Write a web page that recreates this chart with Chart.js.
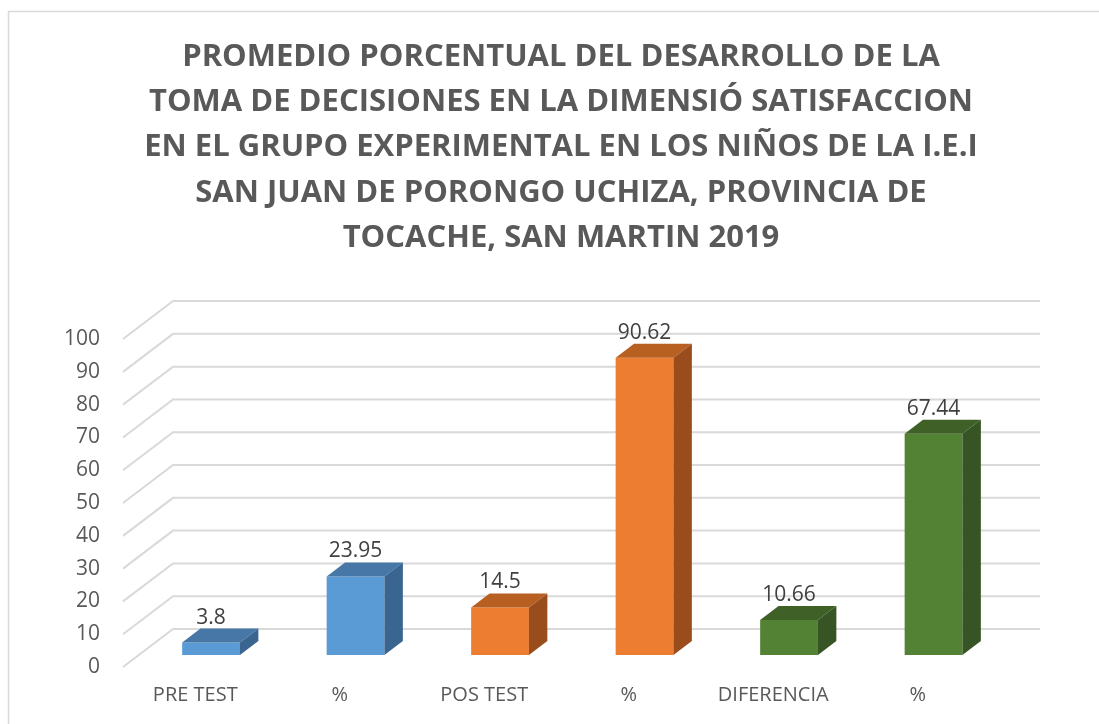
<!DOCTYPE html>
<html>
<head>
<meta charset="utf-8">
<script src="https://cdn.jsdelivr.net/npm/chart.js@4"></script>
<style>
  html, body { margin: 0; padding: 0; background: #fff; }
  #wrap { width: 1099px; height: 724px; }
</style>
</head>
<body>
<div id="wrap"><canvas id="myChart" width="1099" height="724"></canvas></div>
<script>
// chart data
const categories = ['PRE TEST', '%', 'POS TEST', '%', 'DIFERENCIA', '%'];
const values = [3.8, 23.95, 14.5, 90.62, 10.66, 67.44];
const titleLines = [
  'PROMEDIO PORCENTUAL DEL DESARROLLO DE LA',
  'TOMA DE DECISIONES EN LA DIMENSIÓ SATISFACCION',
  'EN EL GRUPO EXPERIMENTAL EN LOS NIÑOS DE LA I.E.I',
  'SAN JUAN DE PORONGO UCHIZA, PROVINCIA DE',
  'TOCACHE, SAN MARTIN 2019'
];
const yMin = 0, yMax = 100, yStep = 10;

// colours (front / top / side)
const frontColors = ['#5B9BD5', '#5B9BD5', '#ED7D31', '#ED7D31', '#548235', '#548235'];
const topColors = ['#4677A6', '#4677A6', '#B85F22', '#B85F22', '#3F6128', '#3F6128'];
const sideColors = ['#3A6590', '#3A6590', '#9A4D1C', '#9A4D1C', '#365424', '#365424'];

// 3d depth vector of the floor and where the bars sit in it
const DEPTH_X = 50, DEPTH_Y = -38;
const D_FRONT = 0.316, D_BACK = 0.684;

function p(x, y, d) {
  return [x + d * DEPTH_X, y + d * DEPTH_Y];
}

const fake3d = {
  id: 'fake3d',
  beforeDraw(chart) {
    const c = chart.ctx;
    c.save();
    c.fillStyle = '#fff';
    c.fillRect(0, 0, chart.width, chart.height);
    c.strokeStyle = '#d9d9d9';
    c.lineWidth = 1.5;
    c.beginPath();
    c.moveTo(8.5, chart.height + 5);
    c.lineTo(8.5, 11.5);
    c.lineTo(chart.width + 5, 11.5);
    c.stroke();
    c.restore();
  },
  beforeDatasetsDraw(chart) {
    const c = chart.ctx;
    const y = chart.scales.y;
    const a = chart.chartArea;
    c.save();
    c.strokeStyle = '#d9d9d9';
    c.lineWidth = 2;
    y.ticks.forEach(t => {
      const py = y.getPixelForValue(t.value);
      c.beginPath();
      c.moveTo(a.left, py);
      c.lineTo(a.left + DEPTH_X, py + DEPTH_Y);
      c.lineTo(a.right + DEPTH_X, py + DEPTH_Y);
      c.stroke();
    });
    c.restore();
    // front faces are drawn by chart.js, pushed into depth
    c.save();
    c.translate(D_FRONT * DEPTH_X, D_FRONT * DEPTH_Y);
  },
  afterDatasetsDraw(chart) {
    const c = chart.ctx;
    c.restore();
    const meta = chart.getDatasetMeta(0);
    meta.data.forEach((bar, i) => {
      const L = bar.x - bar.width / 2, R = bar.x + bar.width / 2;
      const top = bar.y, base = bar.base;
      // top face
      c.beginPath();
      c.moveTo(...p(L, top, D_FRONT));
      c.lineTo(...p(R, top, D_FRONT));
      c.lineTo(...p(R, top, D_BACK));
      c.lineTo(...p(L, top, D_BACK));
      c.closePath();
      c.fillStyle = topColors[i];
      c.fill();
      // side face
      c.beginPath();
      c.moveTo(...p(R, top, D_FRONT));
      c.lineTo(...p(R, base, D_FRONT));
      c.lineTo(...p(R, base, D_BACK));
      c.lineTo(...p(R, top, D_BACK));
      c.closePath();
      c.fillStyle = sideColors[i];
      c.fill();
      // value label
      const lp = p(bar.x, top, D_BACK);
      c.fillStyle = '#404040';
      c.font = '21px "Open Sans"';
      c.textAlign = 'center';
      c.textBaseline = 'alphabetic';
      c.fillText(String(values[i]), bar.x + D_FRONT * DEPTH_X, lp[1] - 5);
    });
  }
};

const ctx = document.getElementById('myChart').getContext('2d');

const myChart = new Chart(ctx, {
  type: 'bar',
  data: {
    labels: categories,
    datasets: [{
      data: values,
      backgroundColor: frontColors,
      borderWidth: 0,
      categoryPercentage: 1,
      barPercentage: 0.4
    }]
  },
  options: {
    responsive: false,
    animation: false,
    layout: { padding: { left: 23, right: 0, top: 0, bottom: 0 } },
    plugins: {
      legend: { display: false },
      tooltip: { enabled: false },
      title: {
        display: true,
        text: titleLines,
        color: '#595959',
        font: { family: '"Open Sans"', size: 31, weight: 'bold', lineHeight: 1.465 },
        padding: { top: 34, bottom: 78 }
      }
    },
    scales: {
      x: {
        grid: { display: false, drawTicks: false },
        border: { display: false },
        ticks: { color: '#595959', font: { family: '"Open Sans"', size: 20 }, padding: 16, maxRotation: 0 },
        afterFit(s) { s.height = 57; }
      },
      y: {
        min: yMin,
        max: yMax,
        grid: { display: false, drawTicks: false },
        border: { display: false },
        ticks: { stepSize: yStep, color: '#595959', font: { family: '"Open Sans"', size: 21 }, padding: 23 },
        afterFit(s) { s.width = 100; }
      },
      yRight: {
        position: 'right',
        display: true,
        grid: { display: false, drawTicks: false },
        border: { display: false },
        ticks: { display: false },
        afterFit(s) { s.width = 109; }
      }
    }
  },
  plugins: [fake3d]
});
</script>
</body>
</html>
